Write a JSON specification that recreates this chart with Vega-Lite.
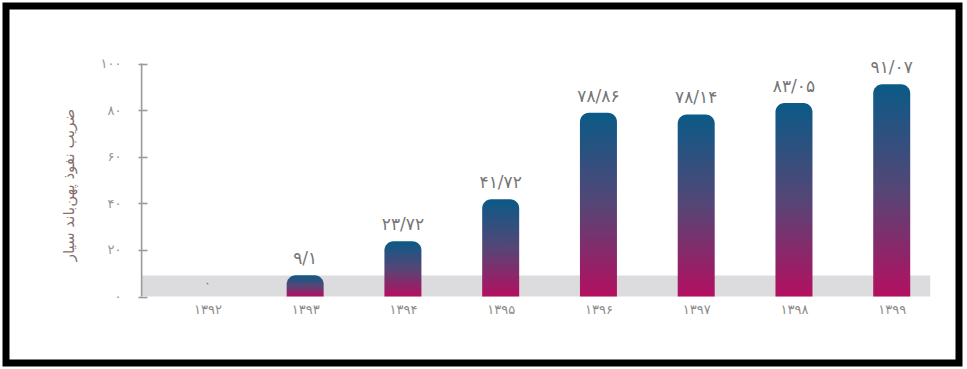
{
  "$schema": "https://vega.github.io/schema/vega-lite/v6.json",
  "width": 953,
  "height": 357,
  "autosize": {"type": "none"},
  "padding": {"left": 6, "top": 6, "right": 8, "bottom": 6},
  "background": "white",
  "config": {
    "view": {"stroke": "#000000", "strokeWidth": 7},
    "font": "DejaVu Sans"
  },
  "datasets": {
    "bars": [
      {"year": 1392, "value": 0, "label": "۰"},
      {"year": 1393, "value": 9.1, "label": "۹/۱"},
      {"year": 1394, "value": 23.72, "label": "۲۳/۷۲"},
      {"year": 1395, "value": 41.72, "label": "۴۱/۷۲"},
      {"year": 1396, "value": 78.86, "label": "۷۸/۸۶"},
      {"year": 1397, "value": 78.14, "label": "۷۸/۱۴"},
      {"year": 1398, "value": 83.05, "label": "۸۳/۰۵"},
      {"year": 1399, "value": 91.07, "label": "۹۱/۰۷"}
    ],
    "band": [{"start": 1391.327, "end": 1399.394, "low": 0, "high": 9}],
    "axisline": [{"x": 1391.327, "low": 0, "high": 100}]
  },
  "layer": [
    {
      "data": {"name": "band"},
      "mark": {"type": "rect", "color": "#dcdcdf"},
      "encoding": {
        "x": {
          "field": "start", "type": "quantitative",
          "scale": {"domain": [1389.991, 1399.637], "nice": false, "zero": false},
          "axis": {
            "values": [1392, 1393, 1394, 1395, 1396, 1397, 1398, 1399],
            "title": null,
            "offset": -66.5,
            "domain": false,
            "ticks": false,
            "tickSize": 0,
            "grid": false,
            "labelPadding": 7,
            "labelFontSize": 13,
            "labelColor": "#8c8c8c",
            "labelExpr": "replace(replace(replace(replace(replace(replace(replace(replace(replace(replace('' + datum.value, regexp('0','g'), '۰'), regexp('1','g'), '۱'), regexp('2','g'), '۲'), regexp('3','g'), '۳'), regexp('4','g'), '۴'), regexp('5','g'), '۵'), regexp('6','g'), '۶'), regexp('7','g'), '۷'), regexp('8','g'), '۸'), regexp('9','g'), '۹')"
          }
        },
        "x2": {"field": "end"},
        "y": {
          "field": "low", "type": "quantitative",
          "scale": {"domain": [-28.54, 124.68], "nice": false, "zero": false},
          "axis": {
            "values": [0, 20, 40, 60, 80, 100],
            "title": "ضریب نفوذ پهن‌باند سیار",
            "titleFontSize": 15,
            "titleFontWeight": "normal",
            "titleColor": "#857070",
            "titlePadding": 24,
            "offset": -141,
            "domain": false,
            "grid": false,
            "tickSize": 9,
            "tickWidth": 1.6,
            "tickColor": "#9a9a9a",
            "labelPadding": 17,
            "labelFontSize": 13,
            "labelColor": "#959595",
            "labelExpr": "replace(replace(replace(replace(replace(replace(replace(replace(replace(replace('' + datum.value, regexp('0','g'), '۰'), regexp('1','g'), '۱'), regexp('2','g'), '۲'), regexp('3','g'), '۳'), regexp('4','g'), '۴'), regexp('5','g'), '۵'), regexp('6','g'), '۶'), regexp('7','g'), '۷'), regexp('8','g'), '۸'), regexp('9','g'), '۹')"
          }
        },
        "y2": {"field": "high"}
      }
    },
    {
      "data": {"name": "axisline"},
      "mark": {"type": "rule", "color": "#9a9a9a", "strokeWidth": 1.6},
      "encoding": {
        "x": {"field": "x", "type": "quantitative"},
        "y": {"field": "low", "type": "quantitative"},
        "y2": {"field": "high"}
      }
    },
    {
      "data": {"name": "bars"},
      "transform": [{"filter": "datum.value > 0"}],
      "mark": {
        "type": "bar",
        "width": 37,
        "cornerRadiusTopLeft": 9,
        "cornerRadiusTopRight": 9,
        "color": {
          "gradient": "linear",
          "x1": 0, "y1": 0, "x2": 0, "y2": 1,
          "stops": [
            {"offset": 0, "color": "#0b5a87"},
            {"offset": 0.5, "color": "#554676"},
            {"offset": 1, "color": "#b40f60"}
          ]
        }
      },
      "encoding": {
        "x": {"field": "year", "type": "quantitative"},
        "y": {"field": "value", "type": "quantitative"},
        "y2": {"datum": 0}
      }
    },
    {
      "data": {"name": "bars"},
      "mark": {"type": "text", "baseline": "bottom", "dy": -7, "color": "#767676"},
      "encoding": {
        "x": {"field": "year", "type": "quantitative"},
        "y": {"field": "value", "type": "quantitative"},
        "text": {"field": "label"},
        "size": {"condition": {"test": "datum.value == 0", "value": 12}, "value": 17}
      }
    }
  ]
}
